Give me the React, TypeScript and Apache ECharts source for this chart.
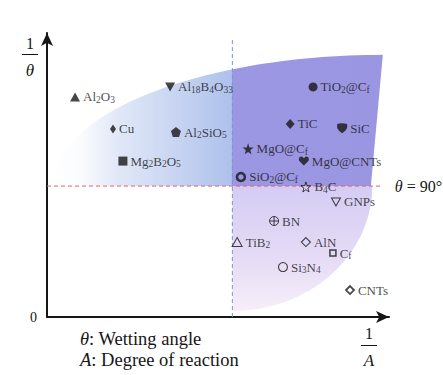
import React, { useEffect, useRef } from 'react';
import * as echarts from 'echarts';

// Materials and their positions on the (1/A, 1/θ) map
const materials = ['Al2O3', 'Al18B4O33', 'Cu', 'Al2SiO5', 'Mg2B2O5', 'TiO2@Cf', 'TiC', 'SiC', 'MgO@Cf', 'MgO@CNTs', 'SiO2@Cf', 'B4C', 'GNPs', 'BN', 'TiB2', 'AlN', 'Cf', 'Si3N4', 'CNTs'];
const materialLabels = [
  'Al{s|2}O{s|3}', 'Al{s|18}B{s|4}O{s|33}', 'Cu', 'Al{s|2}SiO{s|5}', 'Mg{s|2}B{s|2}O{s|5}',
  'TiO{s|2}@C{s|f}', 'TiC', 'SiC', 'MgO@C{s|f}', 'MgO@CNTs', 'SiO{s|2}@C{s|f}', 'B{s|4}C', 'GNPs',
  'BN', 'TiB{s|2}', 'AlN', 'C{s|f}', 'Si{s|3}N{s|4}', 'CNTs'
];
const invReaction = [8.2, 36.0, 19.3, 37.7, 22.2, 77.8, 71.1, 86.3, 58.8, 75.1, 56.7, 75.7, 84.5, 66.4, 55.6, 75.7, 83.6, 69.0, 88.6];
const invWetting = [77.5, 81.0, 66.2, 65.1, 54.9, 81.0, 68.0, 66.5, 59.2, 54.9, 49.3, 45.8, 40.5, 33.8, 26.4, 26.4, 22.5, 17.6, 9.5];

// Reference thresholds
const wettingThreshold = [46.1]; // θ = 90°
const reactionThreshold = [54.2];
const axisMax = [100];

const SERIF = "'Liberation Serif', 'Times New Roman', 'DejaVu Serif', serif";
const INK = '#161616';

const pentagon = 'path://M0,-10L9.5,-3.1L5.9,8.1L-5.9,8.1L-9.5,-3.1Z';
const star = 'path://M0,-10L2.35,-3.24L9.51,-3.09L3.8,1.24L5.88,8.09L0,4L-5.88,8.09L-3.8,1.24L-9.51,-3.09L-2.35,-3.24Z';
const shield = 'path://M-8,-7Q0,-10,8,-7L8,0Q6,5,0,9Q-6,5,-8,0Z';
const heart = 'path://M0,9L-8,0Q-10,-8,-3,-8L0,-5L3,-8Q10,-8,8,0Z';
const circlePlus = 'path://M0,-8A8,8,0,1,1,0,8A8,8,0,1,1,0,-8ZM-8,0L8,0M0,-8L0,8';

const markerStyle: Record<string, any> = {
  'Al2O3': { symbol: 'triangle', size: [10, 9] },
  'Al18B4O33': { symbol: 'triangle', size: [10, 9], rotate: 180 },
  'Cu': { symbol: 'diamond', size: [6, 9] },
  'Al2SiO5': { symbol: pentagon, size: [10, 10] },
  'Mg2B2O5': { symbol: 'rect', size: [9, 9] },
  'TiO2@Cf': { symbol: 'circle', size: 9 },
  'TiC': { symbol: 'diamond', size: [9, 10] },
  'SiC': { symbol: shield, size: [10, 10] },
  'MgO@Cf': { symbol: star, size: [11, 11] },
  'MgO@CNTs': { symbol: heart, size: [10, 9] },
  'SiO2@Cf': { symbol: 'circle', size: 8, hollow: true, bw: 2.6 },
  'B4C': { symbol: star, size: [10, 10], hollow: true, bw: 1 },
  'GNPs': { symbol: 'triangle', size: [9, 8], rotate: 180, hollow: true, bw: 1 },
  'BN': { symbol: circlePlus, size: [9, 9], hollow: true, bw: 1 },
  'TiB2': { symbol: 'triangle', size: [10, 9], hollow: true, bw: 1 },
  'AlN': { symbol: 'diamond', size: [9, 9], hollow: true, bw: 1.1 },
  'Cf': { symbol: 'rect', size: [6, 6], hollow: true, bw: 1.5 },
  'Si3N4': { symbol: 'circle', size: 9, hollow: true, bw: 1.1 },
  'CNTs': { symbol: 'diamond', size: [8, 8], hollow: true, bw: 1.8 },
};

export default function App() {
  const ref = useRef<HTMLDivElement>(null);

  useEffect(() => {
    if (!ref.current) return;
    const chart = echarts.init(ref.current, null, { renderer: 'svg' });

    const scatterData = materials.map((m, i) => {
      const st = markerStyle[m];
      return {
        name: m,
        value: [invReaction[i], invWetting[i]],
        symbol: st.symbol,
        symbolSize: st.size,
        symbolRotate: st.rotate || 0,
        itemStyle: st.hollow
          ? { color: 'rgba(0,0,0,0)', borderColor: INK, borderWidth: st.bw }
          : { color: INK },
        label: { formatter: materialLabels[i] },
      };
    });

    const wy = wettingThreshold[0];
    const rx0 = reactionThreshold[0];

    const renderRegions = (params: any, api: any) => {
      const P = (x: number, y: number) => api.coord([x, y]);
      // upper region (good wetting)
      const ucx = 98.2, urx = 96.5, ury = 46.2;
      const upper: number[][] = [];
      for (let i = 0; i <= 60; i++) {
        const t = Math.PI - (Math.PI / 2) * (i / 60);
        upper.push(P(ucx + urx * Math.cos(t), wy + ury * Math.sin(t)));
      }
      upper.push(P(94.7, wy));
      const x0p = P(ucx - urx, 0)[0];
      const x1p = P(ucx, 0)[0];
      const xmp = P(rx0, 0)[0];
      const f = (xmp - x0p) / (x1p - x0p);
      // lower region (reaction zone)
      const lrx = 40.9, lry = 44.0;
      const lower: number[][] = [P(rx0, wy)];
      for (let i = 0; i <= 60; i++) {
        const t = -(Math.PI / 2) * (i / 60);
        lower.push(P(rx0 + lrx * Math.cos(t), wy + lry * Math.sin(t)));
      }
      const topY = P(0, wy)[1];
      const botY = P(0, wy - lry)[1];
      return {
        type: 'group',
        children: [
          {
            type: 'polygon',
            shape: { points: upper },
            style: {
              fill: {
                type: 'linear', x: x0p, y: 0, x2: x1p, y2: 0, global: true,
                colorStops: [
                  { offset: 0, color: '#ffffff' },
                  { offset: 0.08, color: '#fbfcfe' },
                  { offset: 0.2, color: '#e0e7f7' },
                  { offset: 0.35, color: '#cbd7f2' },
                  { offset: f, color: '#aec1ec' },
                  { offset: f, color: '#9c97e2' },
                  { offset: 1, color: '#9a96e2' },
                ],
              },
            },
          },
          {
            type: 'polygon',
            shape: { points: lower },
            style: {
              fill: {
                type: 'linear', x: 0, y: topY, x2: 0, y2: botY, global: true,
                colorStops: [
                  { offset: 0, color: '#d4ccf4' },
                  { offset: 0.6, color: '#e6dcf6' },
                  { offset: 1, color: '#f6eff9' },
                ],
              },
            },
          },
        ],
      };
    };

    const rich = {
      s: { fontSize: 9.5, lineHeight: 9, padding: [6, 0, 0, 0], fontFamily: SERIF, color: INK },
      i: { fontStyle: 'italic', fontFamily: SERIF, color: INK },
    };

    chart.setOption({
      animation: false,
      backgroundColor: '#ffffff',
      textStyle: { fontFamily: SERIF },
      grid: { left: 47, top: 33, right: 54, bottom: 58 },
      xAxis: {
        type: 'value', min: 0, max: axisMax[0],
        axisLine: { show: true, onZero: false, lineStyle: { color: INK, width: 2 }, symbol: ['none', 'arrow'], symbolSize: [9, 13] },
        axisTick: { show: false }, axisLabel: { show: false }, splitLine: { show: false },
      },
      yAxis: {
        type: 'value', min: 0, max: axisMax[0], interval: axisMax[0],
        axisLine: { show: true, onZero: false, lineStyle: { color: INK, width: 2 }, symbol: ['none', 'arrow'], symbolSize: [9, 13] },
        axisTick: { show: false }, splitLine: { show: false },
        axisLabel: {
          show: true, margin: 10, fontSize: 14, fontFamily: SERIF, color: INK,
          formatter: (v: number) => (v === 0 ? '0' : ''),
        },
      },
      series: [
        {
          type: 'custom', silent: true, z: 1, clip: false,
          renderItem: renderRegions,
          data: [[0, 0]],
        },
        {
          type: 'line', silent: true, z: 2, symbol: 'none',
          lineStyle: { color: '#7d95cf', width: 1, type: [4, 3] },
          data: [[rx0, 0], [rx0, 98.2]],
        },
        {
          type: 'line', silent: true, z: 2, symbol: 'none',
          lineStyle: { color: '#e5606c', width: 1, type: [4, 3] },
          data: [[0, wy], [98.2, wy]],
          endLabel: {
            show: true, distance: 12, formatter: '{i|θ} = 90°',
            fontSize: 16, fontFamily: SERIF, color: INK,
            rich: { i: { fontStyle: 'italic', fontFamily: SERIF, fontSize: 16, color: INK } },
          },
        },
        {
          type: 'scatter', z: 5,
          data: scatterData,
          label: {
            show: true, position: 'right', distance: 3,
            fontSize: 13, lineHeight: 14, fontFamily: SERIF, color: INK,
            rich,
          },
        },
      ],
      graphic: [
        { type: 'text', x: 30, y: 43, style: { text: '1', fontSize: 16, fontFamily: SERIF, fill: INK, align: 'center', verticalAlign: 'middle' } },
        { type: 'line', shape: { x1: 22, y1: 54.5, x2: 38, y2: 54.5 }, style: { stroke: INK, lineWidth: 1 } },
        { type: 'text', x: 30, y: 70, style: { text: 'θ', fontSize: 17, fontStyle: 'italic', fontFamily: SERIF, fill: INK, align: 'center', verticalAlign: 'middle' } },
        { type: 'text', x: 369, y: 333, style: { text: '1', fontSize: 16, fontFamily: SERIF, fill: INK, align: 'center', verticalAlign: 'middle' } },
        { type: 'line', shape: { x1: 361, y1: 345.5, x2: 377, y2: 345.5 }, style: { stroke: INK, lineWidth: 1 } },
        { type: 'text', x: 369, y: 360, style: { text: 'A', fontSize: 17, fontStyle: 'italic', fontFamily: SERIF, fill: INK, align: 'center', verticalAlign: 'middle' } },
        {
          type: 'text', x: 80, y: 339,
          style: { text: '{i|θ}: Wetting angle', fontSize: 18.5, fontFamily: SERIF, fill: INK, verticalAlign: 'middle', rich: { i: { fontStyle: 'italic', fontSize: 18.5, fontFamily: SERIF } } },
        },
        {
          type: 'text', x: 80, y: 360,
          style: { text: '{i|A}: Degree of reaction', fontSize: 18.5, fontFamily: SERIF, fill: INK, verticalAlign: 'middle', rich: { i: { fontStyle: 'italic', fontSize: 18.5, fontFamily: SERIF } } },
        },
      ],
    });

    return () => chart.dispose();
  }, []);

  return <div ref={ref} style={{ position: 'absolute', left: 0, top: 0, width: 443, height: 375 }} />;
}
